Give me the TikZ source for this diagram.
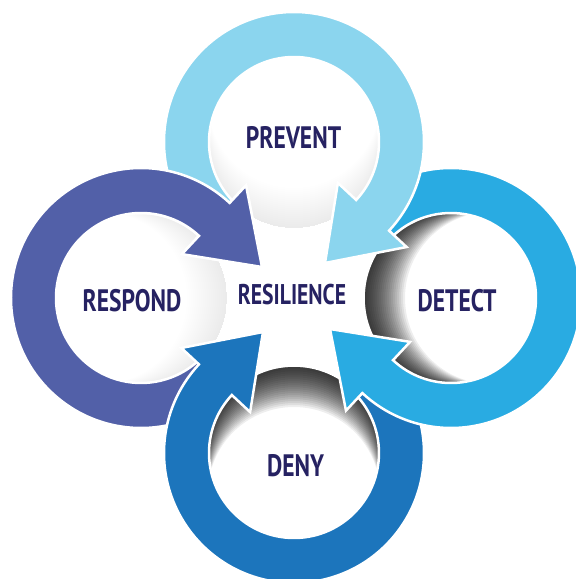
\documentclass[tikz,border=0pt]{standalone}
\usepackage{fontspec}
\newfontfamily\lblfont{PT Sans}[FakeStretch=0.76]
\definecolor{cprevent}{RGB}{139,213,238}
\definecolor{cdetect}{RGB}{41,171,226}
\definecolor{cdeny}{RGB}{28,117,188}
\definecolor{crespond}{RGB}{82,96,168}
\definecolor{ctext}{RGB}{38,34,98}
\newcommand\ringarrowpath{(230:130pt) arc[start angle=230,end angle=-43,radius=130pt] -- (-43:154pt) -- (31pt,-121pt) -- (-43:60pt) -- (-43:85pt) arc[start angle=-43,end angle=230,radius=85pt] -- cycle}
\newcommand\holeshadow[5]{%
  \begin{scope}[shift={(#1,#2)}]
    \clip (0,0) circle (86pt);
    \foreach \i in {1,...,20}{
      \fill[black,opacity=#5,even odd rule] (0,0) circle (86pt) (\i*2*#3,\i*2*#4) circle (86pt);
    }
  \end{scope}}
\tikzset{
  ringarrow/.style={fill=#1,draw=white,line width=2.5pt,line join=miter},
  lbl/.style={text=ctext,inner sep=0pt,font=\lblfont\bfseries\fontsize{31}{31}\selectfont},
  lblsmall/.style={text=ctext,inner sep=0pt,font=\lblfont\bfseries\fontsize{28.5}{28.5}\selectfont}
}
\begin{document}
\begin{tikzpicture}[x=1pt,y=1pt]
\useasboundingbox[fill=white] (-294,-281) rectangle (282,298);
% hole shadows
\holeshadow{0}{156}{0}{1}{0.004}
\holeshadow{-153}{0}{-1}{0}{0.004}
\holeshadow{157}{0}{1}{0}{0.065}
\holeshadow{0}{-155}{0}{-1}{0.065}
% arrows: respond, deny, detect, prevent
\begin{scope}[shift={(-153,0)},rotate=90]
  \path[ringarrow=crespond] \ringarrowpath;
\end{scope}
\begin{scope}[shift={(0,-155)},rotate=180]
  \path[ringarrow=cdeny] \ringarrowpath;
\end{scope}
\begin{scope}[shift={(157,0)},rotate=-90]
  \path[ringarrow=cdetect] \ringarrowpath;
\end{scope}
\begin{scope}[shift={(0,156)}]
  \path[ringarrow=cprevent] \ringarrowpath;
\end{scope}
% respond head over prevent tail
\begin{scope}
  \clip (-300,0) rectangle (0,300);
  \begin{scope}[shift={(-153,0)},rotate=90]
    \path[ringarrow=crespond] \ringarrowpath;
  \end{scope}
\end{scope}
% labels
\node[lbl] (prevent) at (-0.5,160.5) {PREVENT};
\node[lbl] (respond) at (-162,-3) {RESPOND};
\node[lblsmall] (resilience) at (-2,3) {RESILIENCE};
\node[lbl] (detect) at (163,-3) {DETECT};
\node[lbl] (deny) at (1.5,-167.5) {DENY};
\end{tikzpicture}
\end{document}
